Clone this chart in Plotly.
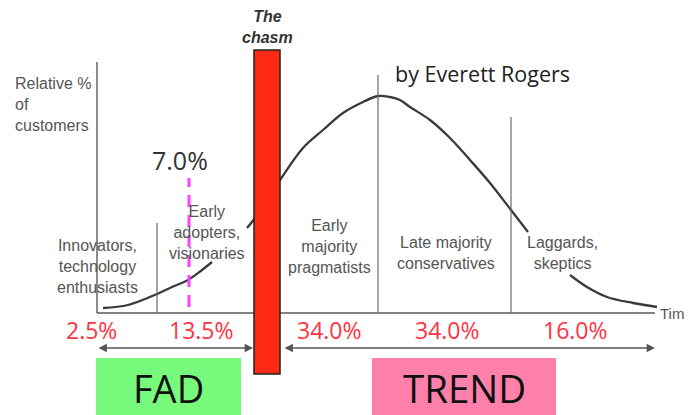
import plotly.graph_objects as go

# ---- data (time units along x, relative share along y) ----
curve_t = [6, 31, 60, 75, 91, 105, 115, None,
           150, 158, 183, 206, 226, 246, 266, 281, 293, 303, 313, 333, 353, 373, 393, 414, 431, None,
           473, 490, 510, 536, 560]
curve_y = [5, 8, 19, 26, 33, 43, 51, None,
           85, 95, 133, 165, 183, 200, 211, 217, 216, 213, 206, 193, 175, 153, 130, 103, 81, None,
           38, 26, 16, 10, 6]

divider_t = [60, 281, 414]
divider_top = [90, 238, 196]
axis_top = 251
axis_end = 558

chasm_t = [157, 183]
chasm_y = [-61, 263]

segment_labels = ["Innovators,<br>technology<br>enthusiasts",
                  "Early<br>adopters,<br>visionaries",
                  "Early<br>majority<br>pragmatists",
                  "Late majority<br>conservatives",
                  "Laggards,<br>skeptics"]
segment_label_t = [0, 110, 232, 349, 465]
segment_label_y = [47, 81, 67, 60, 60]

shares = ["2.5%", "13.5%", "34.0%", "34.0%", "16.0%"]
share_t = [-6, 104, 232, 350, 478]
share_y = -17

fad_marker_t = 92
fad_marker_y = [6, 135]
fad_marker_label = "7.0%"

fad_span = [0, 156]
trend_span = [186, 558]
span_y = -35

fad_box = [-1, 144]
trend_box = [275, 459]
box_y = [-102, -45]

fig = go.Figure()

fig.add_trace(go.Scatter(x=curve_t, y=curve_y, mode="lines",
                         line=dict(color="#3a3a3a", width=2.3, shape="spline", smoothing=1.0),
                         connectgaps=False, hoverinfo="skip"))

gray = "#5a5a5a"
shapes = []
# axes
shapes.append(dict(type="line", xref="x", yref="y", x0=0, x1=0, y0=0, y1=axis_top,
                   line=dict(color=gray, width=1.4)))
shapes.append(dict(type="line", xref="x", yref="y", x0=0, x1=axis_end, y0=0, y1=0,
                   line=dict(color=gray, width=1.4)))
for t, top in zip(divider_t, divider_top):
    shapes.append(dict(type="line", xref="x", yref="y", x0=t, x1=t, y0=0, y1=top,
                       line=dict(color="#6a6a6a", width=1.2)))
# boxes
shapes.append(dict(type="rect", xref="x", yref="y", x0=fad_box[0], x1=fad_box[1],
                   y0=box_y[0], y1=box_y[1], fillcolor="#77f97b", line=dict(width=0)))
shapes.append(dict(type="rect", xref="x", yref="y", x0=trend_box[0], x1=trend_box[1],
                   y0=box_y[0], y1=box_y[1], fillcolor="#ff80aa", line=dict(width=0)))
# magenta dashed marker
shapes.append(dict(type="line", xref="x", yref="y", x0=fad_marker_t, x1=fad_marker_t,
                   y0=fad_marker_y[0], y1=fad_marker_y[1], layer="above",
                   line=dict(color="#ff40ff", width=3, dash="12px,8px")))
# chasm bar
shapes.append(dict(type="rect", xref="x", yref="y", x0=chasm_t[0], x1=chasm_t[1],
                   y0=chasm_y[0], y1=chasm_y[1], fillcolor="#ff2a14", layer="above",
                   line=dict(color="#222222", width=1.5)))

ann = []
label_font = dict(family="Liberation Sans, Arial, sans-serif", size=16, color="#555555")
for txt, t, y in zip(segment_labels, segment_label_t, segment_label_y):
    ann.append(dict(x=t, y=y, xref="x", yref="y", text=txt, showarrow=False,
                    font=label_font, xanchor="center", yanchor="middle", align="center"))
ann.append(dict(x=561, y=0, xref="x", yref="y", text="Time", showarrow=False,
                font=dict(family="Liberation Sans, Arial, sans-serif", size=15, color="#555555"),
                xanchor="left", yanchor="middle"))
ann.append(dict(x=-84, y=209, xref="x", yref="y", text="Relative %<br>of<br>customers",
                showarrow=False, font=label_font, xanchor="left", yanchor="middle", align="left"))
ann.append(dict(x=170, y=286, xref="x", yref="y", text="<b><i>The<br>chasm</i></b>",
                showarrow=False, font=dict(family="Liberation Sans, Arial, sans-serif", size=16,
                                           color="#333333"),
                xanchor="center", yanchor="middle", align="center"))
ann.append(dict(x=296, y=240, xref="x", yref="y", text="by Everett Rogers", showarrow=False,
                font=dict(family="Open Sans, sans-serif", size=21.5, color="#222222"),
                xanchor="left", yanchor="middle"))
ann.append(dict(x=fad_marker_t - 9, y=153, xref="x", yref="y", text=fad_marker_label,
                showarrow=False, font=dict(family="Open Sans, sans-serif", size=25, color="#333333"),
                xanchor="center", yanchor="middle"))
for txt, t in zip(shares, share_t):
    ann.append(dict(x=t, y=share_y, xref="x", yref="y", text=txt, showarrow=False,
                    font=dict(family="Open Sans, sans-serif", size=23, color="#ff3344"),
                    xanchor="center", yanchor="middle"))
# double arrows
for span in (fad_span, trend_span):
    ann.append(dict(x=span[1], y=span_y, ax=span[0], ay=span_y, xref="x", yref="y",
                    axref="x", ayref="y", text="", showarrow=True, arrowhead=2,
                    arrowside="end+start", arrowsize=1.2, arrowwidth=1.4, arrowcolor="#555555"))
ann.append(dict(x=sum(fad_box) / 2, y=-75, xref="x", yref="y", text="FAD", showarrow=False,
                font=dict(family="Open Sans, sans-serif", size=38, color="#111111"),
                xanchor="center", yanchor="middle"))
ann.append(dict(x=367, y=-75, xref="x", yref="y", text="TREND", showarrow=False,
                font=dict(family="Open Sans, sans-serif", size=38.5, color="#111111"),
                xanchor="center", yanchor="middle"))

# the page body adds an 8px margin, so the figure is 8px smaller and the ranges are shifted
fig.update_layout(
    width=684, height=407,
    margin=dict(l=0, r=0, t=0, b=0),
    paper_bgcolor="white", plot_bgcolor="white",
    showlegend=False, hovermode=False,
    shapes=shapes, annotations=ann,
    xaxis=dict(range=[-89, 595], visible=False, fixedrange=True),
    yaxis=dict(range=[-102, 305], visible=False, fixedrange=True),
)

fig.write_html("out.html")
